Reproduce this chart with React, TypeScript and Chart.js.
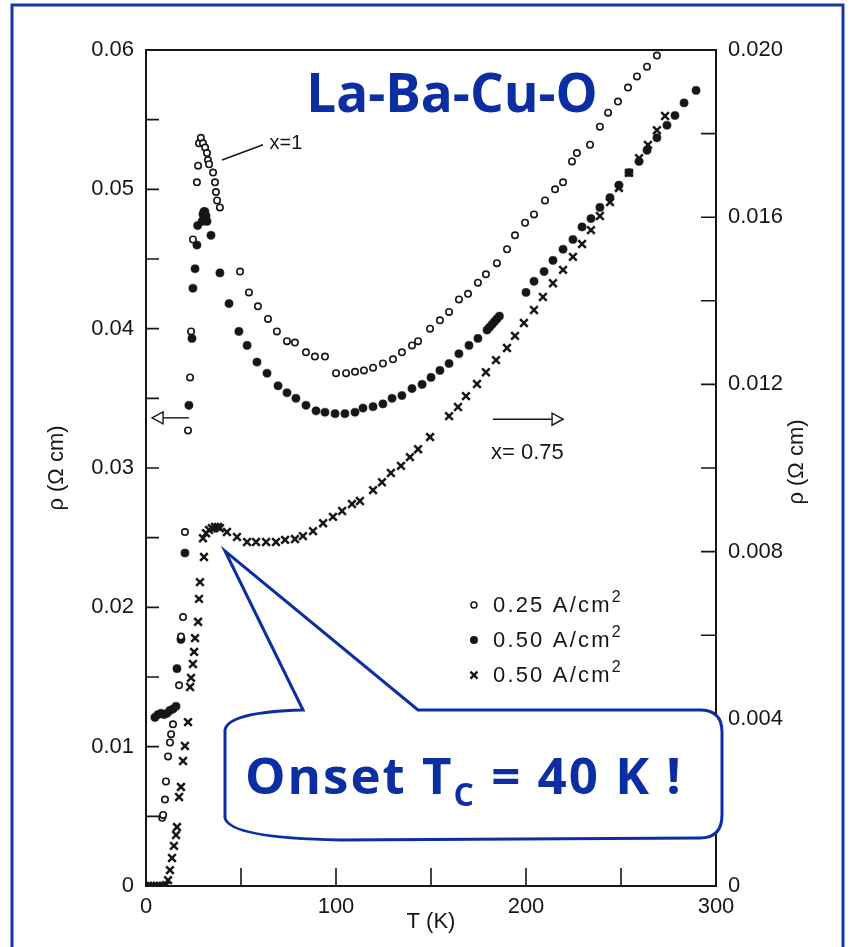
import React, { useEffect, useRef } from 'react';
import { Chart, registerables } from 'chart.js';

Chart.register(...registerables);

const BLUE = '#0b2fa3';
const INK = '#161616';
const SANS = '"Liberation Sans", Arial, Helvetica, sans-serif';
const COMIC = '"Comic Sans MS", "Open Sans", sans-serif';

// x = 1, 0.25 A/cm^2 (open circles, left axis)
const T_OPEN = [8.5, 9, 10, 10.5, 11.6, 12.6, 13.2, 14.2, 17.4, 18.4, 19.5, 20.5, 22.1, 23.2, 23.7, 24.7, 26.8, 27.4, 27.9, 28.9, 30, 31.1, 32.1, 32.6, 33.2, 35.3, 36.3, 36.8, 37.4, 38.9, 49.5, 54.2, 58.9, 64.2, 68.9, 74.2, 78.4, 84.2, 88.9, 94.2, 100, 105.3, 110, 114.7, 119.5, 124.7, 130, 134.7, 140, 143.2, 149.5, 154.7, 159.5, 164.7, 169.5, 174.7, 178.9, 184.7, 190, 194.2, 199.5, 204.2, 210, 215.3, 219.5, 224.2, 226.8, 233.7, 238.9, 243.2, 248.4, 253.7, 258.4, 263.7, 268.9];
const RHO_OPEN = [0.0049, 0.0051, 0.0062, 0.0075, 0.0093, 0.0103, 0.0109, 0.0116, 0.0144, 0.0179, 0.0193, 0.0254, 0.0327, 0.0365, 0.0398, 0.0464, 0.0505, 0.0517, 0.0533, 0.0537, 0.0533, 0.0530, 0.0526, 0.0521, 0.0518, 0.0512, 0.0505, 0.0498, 0.0492, 0.0487, 0.0441, 0.0426, 0.0416, 0.0407, 0.0398, 0.0391, 0.0390, 0.0383, 0.0380, 0.0380, 0.0368, 0.0368, 0.0369, 0.0370, 0.0372, 0.0375, 0.0378, 0.0383, 0.0388, 0.0391, 0.0400, 0.0406, 0.0412, 0.0421, 0.0425, 0.0433, 0.0439, 0.0447, 0.0457, 0.0467, 0.0476, 0.0482, 0.0492, 0.0500, 0.0505, 0.0520, 0.0526, 0.0532, 0.0545, 0.0555, 0.0563, 0.0573, 0.0581, 0.0588, 0.0596];

// x = 1, 0.50 A/cm^2 (filled circles, left axis)
const T_FILLED = [4.7, 6.3, 7.9, 9.5, 11.1, 12.6, 14.2, 15.8, 16.3, 18.4, 20.5, 22.6, 24.2, 24.7, 25.8, 26.8, 27.2, 29.5, 30, 30.5, 31, 31.6, 32.1, 34.2, 38.9, 43.7, 48.9, 53.2, 58.4, 63.7, 69.5, 74.2, 78.9, 84.2, 89.5, 94.2, 99.5, 104.7, 110, 114.2, 119.5, 124.7, 129.5, 134.7, 140, 145.3, 150, 154.7, 159.5, 164.7, 170, 174.7, 179.5, 180.8, 182.1, 183.4, 184.7, 186, 200, 204.2, 209.5, 214.2, 219.5, 224.7, 229.5, 234.2, 238.9, 244.2, 248.9, 254.2, 259.5, 263.7, 268.9, 274.2, 278.4, 283.2, 289.5];
const RHO_FILLED = [0.0121, 0.0123, 0.0124, 0.0123, 0.0124, 0.0126, 0.0127, 0.0129, 0.0156, 0.0177, 0.0239, 0.0345, 0.0393, 0.0429, 0.0443, 0.0460, 0.0474, 0.0477, 0.0482, 0.0484, 0.0484, 0.0481, 0.0477, 0.0467, 0.0440, 0.0418, 0.0398, 0.0388, 0.0376, 0.0368, 0.0359, 0.0354, 0.0350, 0.0345, 0.0341, 0.0340, 0.0339, 0.0339, 0.0340, 0.0343, 0.0344, 0.0346, 0.0350, 0.0352, 0.0357, 0.0360, 0.0365, 0.0370, 0.0375, 0.0382, 0.0388, 0.0393, 0.0399, 0.0401, 0.0403, 0.0405, 0.0407, 0.0409, 0.0426, 0.0434, 0.0441, 0.0449, 0.0457, 0.0464, 0.0473, 0.0479, 0.0487, 0.0494, 0.0503, 0.0512, 0.0520, 0.0528, 0.0537, 0.0546, 0.0553, 0.0562, 0.0571];

// x = 0.75, 0.50 A/cm^2 (crosses, right axis)
const T_CROSS = [1, 2.6, 4.2, 5.8, 7.4, 8.9, 10.5, 11.6, 12.6, 13.7, 14.7, 15.8, 16.3, 17.4, 18.4, 19.5, 20.5, 22.1, 23.2, 23.7, 24.7, 25.3, 25.8, 27.4, 27.9, 28.4, 30, 30.5, 31.6, 33.2, 34.7, 36.3, 37.9, 38.9, 42.6, 47.9, 53.2, 57.9, 63.2, 68.4, 73.2, 78.4, 82.6, 87.9, 93.2, 98.4, 103.2, 108.4, 112.6, 119.5, 124.2, 128.9, 134.2, 138.9, 143.2, 149.5, 159.5, 164.2, 168.4, 174.2, 178.9, 184.2, 190, 194.2, 198.9, 204.2, 208.9, 214.2, 219.5, 224.7, 229.5, 234.2, 238.9, 244.2, 248.9, 254.2, 259.5, 264.2, 268.9, 273.2];
const RHO_CROSS = [0, 0, 0, 0, 0, 0, 0.00002, 0.00014, 0.00038, 0.00067, 0.00096, 0.00122, 0.00141, 0.00213, 0.00237, 0.00299, 0.00335, 0.00392, 0.00476, 0.00498, 0.00531, 0.0056, 0.00593, 0.00632, 0.00687, 0.00727, 0.00832, 0.00787, 0.00844, 0.00852, 0.00856, 0.00859, 0.00859, 0.00856, 0.00847, 0.00835, 0.00823, 0.00823, 0.00823, 0.00823, 0.00828, 0.0083, 0.00837, 0.00849, 0.00868, 0.00883, 0.00897, 0.00914, 0.00921, 0.00947, 0.00966, 0.00988, 0.01005, 0.01026, 0.01045, 0.01074, 0.01124, 0.01146, 0.01172, 0.01201, 0.01229, 0.01258, 0.01287, 0.01316, 0.01347, 0.01378, 0.01409, 0.01442, 0.01474, 0.01505, 0.01536, 0.01569, 0.01603, 0.01636, 0.0167, 0.01706, 0.01741, 0.01773, 0.01808, 0.01842];

const X_LABELS = ['0', '100', '200', '300'];
const LEFT_LABELS = ['0', '0.01', '0.02', '0.03', '0.04', '0.05', '0.06'];
const RIGHT_LABELS = ['0', '0.004', '0.008', '0.012', '0.016', '0.020'];
const LEGEND_LABELS = ['0.25 A/cm', '0.50 A/cm', '0.50 A/cm'];

const labelFor = (v: number, step: number, labels: string[]) => {
  const k = v / step;
  const r = Math.round(k);
  return Math.abs(k - r) < 1e-6 && labels[r] !== undefined ? labels[r] : '';
};

const pts = (xs: number[], ys: number[]) => xs.map((x, i) => ({ x, y: ys[i] }));

const decor = {
  id: 'decor',
  afterDraw(chart: any) {
    const { ctx, chartArea: a, scales } = chart;
    const sx = scales.x, sl = scales.y, sr = scales.y2;
    const X = (t: number) => sx.getPixelForValue(t);
    const YL = (v: number) => sl.getPixelForValue(v);
    ctx.save();

    // frame
    ctx.strokeStyle = INK;
    ctx.lineWidth = 2;
    ctx.strokeRect(a.left, a.top, a.right - a.left, a.bottom - a.top);

    // inward ticks
    ctx.lineWidth = 1.6;
    ctx.beginPath();
    sx.ticks.forEach((t: any) => {
      if (t.value <= sx.min || t.value >= sx.max) return;
      const p = X(t.value);
      ctx.moveTo(p, a.bottom);
      ctx.lineTo(p, a.bottom - 18);
    });
    sl.ticks.forEach((t: any) => {
      if (t.value <= sl.min + 1e-9 || t.value >= sl.max - 1e-9) return;
      const p = YL(t.value);
      ctx.moveTo(a.left, p);
      ctx.lineTo(a.left + 13, p);
    });
    sr.ticks.forEach((t: any) => {
      if (t.value <= sr.min + 1e-9 || t.value >= sr.max - 1e-9) return;
      const p = sr.getPixelForValue(t.value);
      ctx.moveTo(a.right, p);
      ctx.lineTo(a.right - 15, p);
    });
    ctx.stroke();

    // right axis title
    ctx.fillStyle = INK;
    ctx.font = `22px ${SANS}`;
    ctx.save();
    ctx.translate(797, 462);
    ctx.rotate(-Math.PI / 2);
    ctx.textAlign = 'center';
    ctx.textBaseline = 'middle';
    ctx.fillText('ρ (Ω cm)', 0, 0);
    ctx.restore();

    // x=1 annotation
    ctx.lineWidth = 1.5;
    ctx.beginPath();
    ctx.moveTo(X(40), YL(0.0521));
    ctx.lineTo(X(61.6), YL(0.0532));
    ctx.stroke();
    ctx.font = `20px ${SANS}`;
    ctx.textAlign = 'left';
    ctx.textBaseline = 'middle';
    ctx.fillText('x=1', X(65), YL(0.0533));

    // arrows
    const arrow = (x0: number, x1: number, y: number) => {
      const dir = Math.sign(x1 - x0);
      ctx.beginPath();
      ctx.moveTo(x0, y);
      ctx.lineTo(x1 - dir * 11, y);
      ctx.stroke();
      ctx.beginPath();
      ctx.moveTo(x1, y);
      ctx.lineTo(x1 - dir * 11, y - 6);
      ctx.lineTo(x1 - dir * 11, y + 6);
      ctx.closePath();
      ctx.fillStyle = '#fff';
      ctx.fill();
      ctx.stroke();
      ctx.fillStyle = INK;
    };
    ctx.lineWidth = 1.4;
    arrow(X(22.6), X(3.2), YL(0.0336));
    arrow(X(182.6), X(219.5), YL(0.0335));
    ctx.font = `22px ${SANS}`;
    ctx.fillText('x= 0.75', X(181.6), YL(0.0311));

    // legend
    const rows = [0.02017, 0.01766, 0.01514];
    rows.forEach((r, i) => {
      const cy = YL(r);
      const mx = X(172.6);
      ctx.strokeStyle = INK;
      ctx.fillStyle = INK;
      if (i === 0) {
        ctx.lineWidth = 1.5;
        ctx.beginPath();
        ctx.arc(mx, cy, 3, 0, Math.PI * 2);
        ctx.stroke();
      } else if (i === 1) {
        ctx.beginPath();
        ctx.arc(mx, cy, 4, 0, Math.PI * 2);
        ctx.fill();
      } else {
        ctx.lineWidth = 2.4;
        ctx.beginPath();
        ctx.moveTo(mx - 3.5, cy - 3.5);
        ctx.lineTo(mx + 3.5, cy + 3.5);
        ctx.moveTo(mx + 3.5, cy - 3.5);
        ctx.lineTo(mx - 3.5, cy + 3.5);
        ctx.stroke();
      }
      ctx.font = `22px ${SANS}`;
      (ctx as any).letterSpacing = '2.2px';
      ctx.textBaseline = 'middle';
      const tx = X(182.6);
      ctx.fillText(LEGEND_LABELS[i], tx, cy + 1);
      const w = ctx.measureText(LEGEND_LABELS[i]).width;
      ctx.font = `16px ${SANS}`;
      ctx.fillText('2', tx + w, cy - 7);
      (ctx as any).letterSpacing = '0px';
    });

    // title
    ctx.fillStyle = BLUE;
    ctx.font = `bold 53px ${COMIC}`;
    ctx.textAlign = 'center';
    ctx.textBaseline = 'alphabetic';
    ctx.fillText('La-Ba-Cu-O', 452, 112);

    // callout
    ctx.beginPath();
    ctx.moveTo(303, 710);
    ctx.lineTo(225, 551);
    ctx.lineTo(418, 710);
    ctx.lineTo(700, 710);
    ctx.quadraticCurveTo(722, 710, 722, 732);
    ctx.lineTo(722, 815);
    ctx.quadraticCurveTo(722, 838, 700, 838);
    ctx.lineTo(340, 840);
    ctx.quadraticCurveTo(230, 838, 225, 818);
    ctx.lineTo(225, 730);
    ctx.quadraticCurveTo(228, 712, 303, 710);
    ctx.closePath();
    ctx.fillStyle = '#fff';
    ctx.fill();
    ctx.strokeStyle = BLUE;
    ctx.lineWidth = 3;
    ctx.stroke();

    ctx.fillStyle = BLUE;
    ctx.textAlign = 'left';
    (ctx as any).letterSpacing = '2px';
    ctx.font = `bold 51px ${COMIC}`;
    let cx = 245;
    ctx.fillText('Onset T', cx, 794);
    cx += ctx.measureText('Onset T').width;
    ctx.font = `bold 32px ${COMIC}`;
    ctx.fillText('C', cx, 806);
    cx += ctx.measureText('C').width;
    ctx.font = `bold 51px ${COMIC}`;
    ctx.fillText(' = 40 K !', cx, 794);
    (ctx as any).letterSpacing = '0px';

    // outer border
    ctx.strokeStyle = '#1838a8';
    ctx.lineWidth = 3;
    ctx.beginPath();
    ctx.moveTo(12, 947);
    ctx.lineTo(12, 5);
    ctx.lineTo(843, 5);
    ctx.lineTo(843, 947);
    ctx.stroke();

    ctx.restore();
  },
};

export default function App() {
  const ref = useRef<HTMLCanvasElement>(null);
  useEffect(() => {
    const canvas = ref.current!;
    const tickFont = { family: SANS, size: 22 };
    const chart = new Chart(canvas, {
      type: 'scatter',
      data: {
        datasets: [
          {
            label: '0.25 A/cm² (x=1)',
            data: pts(T_OPEN, RHO_OPEN),
            yAxisID: 'y',
            pointStyle: 'circle',
            pointRadius: 3.2,
            pointBorderWidth: 1.6,
            borderColor: INK,
            backgroundColor: '#fff',
          },
          {
            label: '0.50 A/cm² (x=1)',
            data: pts(T_FILLED, RHO_FILLED),
            yAxisID: 'y',
            pointStyle: 'circle',
            pointRadius: 4.1,
            pointBorderWidth: 0.5,
            borderColor: INK,
            backgroundColor: INK,
          },
          {
            label: '0.50 A/cm² (x=0.75)',
            data: pts(T_CROSS, RHO_CROSS),
            yAxisID: 'y2',
            pointStyle: 'crossRot',
            pointRadius: 5.4,
            pointBorderWidth: 2.5,
            borderColor: INK,
            backgroundColor: INK,
          },
        ],
      },
      options: {
        responsive: false,
        animation: false,
        devicePixelRatio: 1,
        layout: { padding: { top: 50, left: 0, right: 0, bottom: 0 } },
        plugins: { legend: { display: false }, tooltip: { enabled: false } },
        scales: {
          x: {
            type: 'linear',
            position: 'bottom',
            min: 0,
            max: 300,
            grid: { display: false, drawTicks: false },
            border: { display: false },
            ticks: {
              stepSize: 50,
              autoSkip: false,
              maxRotation: 0,
              padding: 8,
              color: INK,
              font: tickFont,
              callback: (v: any) => labelFor(Number(v), 100, X_LABELS),
            },
            title: {
              display: true,
              text: 'T (K)',
              color: INK,
              font: { family: SANS, size: 22 },
              padding: { top: 0, bottom: 12 },
            },
            afterFit: (s: any) => { s.height = 61; },
          },
          y: {
            type: 'linear',
            position: 'left',
            min: 0,
            max: 0.06,
            grid: { display: false, drawTicks: false },
            border: { display: false },
            ticks: {
              stepSize: 0.005,
              autoSkip: false,
              padding: 12,
              color: INK,
              font: tickFont,
              callback: (v: any) => labelFor(Number(v), 0.01, LEFT_LABELS),
            },
            title: {
              display: true,
              text: 'ρ (Ω cm)',
              color: INK,
              font: { family: SANS, size: 22 },
              padding: { top: 44, bottom: 0 },
            },
            afterFit: (s: any) => { s.width = 146; },
          },
          y2: {
            type: 'linear',
            position: 'right',
            min: 0,
            max: 0.02,
            grid: { display: false, drawTicks: false },
            border: { display: false },
            ticks: {
              stepSize: 0.002,
              autoSkip: false,
              padding: 12,
              color: INK,
              font: tickFont,
              callback: (v: any) => labelFor(Number(v), 0.004, RIGHT_LABELS),
            },
            afterFit: (s: any) => { s.width = 134; },
          },
        },
      },
      plugins: [decor],
    } as any);
    return () => chart.destroy();
  }, []);
  return (
    <div style={{ position: 'absolute', left: 0, top: 0, width: 850, height: 947, background: '#fff' }}>
      <canvas ref={ref} width={850} height={947} style={{ display: 'block', width: 850, height: 947 }} />
    </div>
  );
}
